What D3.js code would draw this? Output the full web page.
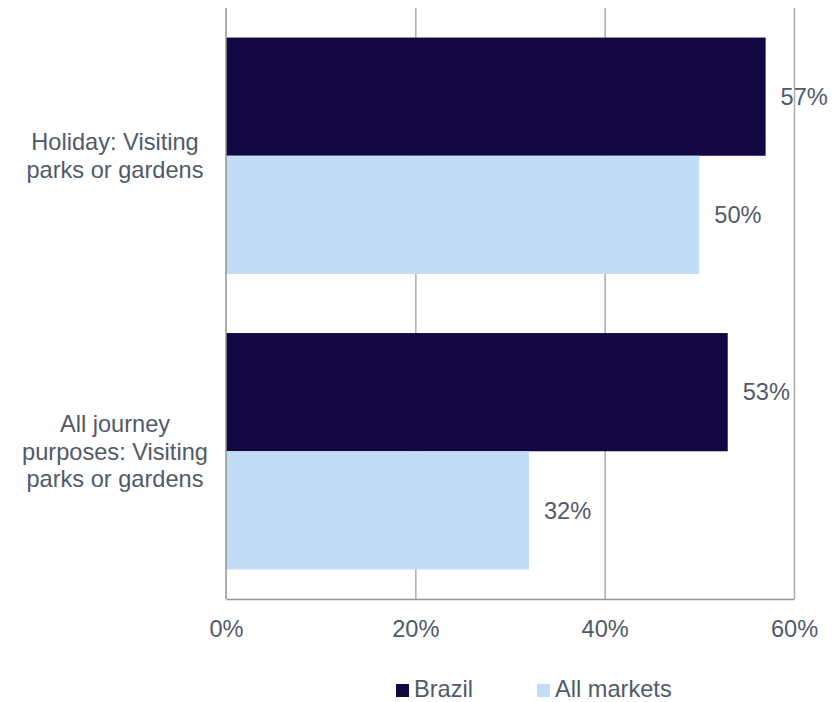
<!DOCTYPE html>
<html>
<head>
<meta charset="utf-8">
<script src="https://cdn.jsdelivr.net/npm/d3@7"></script>
<style>
  html, body { margin: 0; padding: 0; background: #ffffff; }
  svg { display: block; font-family: "Liberation Sans", Arial, sans-serif; }
</style>
</head>
<body>
<svg id="chart" width="839" height="702"></svg>
<script>
// Share of visitors who visited parks or gardens
const categories = [
  "Holiday: Visiting parks or gardens",
  "All journey purposes: Visiting parks or gardens"
];
const seriesNames = ["Brazil", "All markets"];
const brazilValues = [0.57, 0.53];
const allMarketsValues = [0.50, 0.32];
const tickValues = [0, 0.2, 0.4, 0.6];
const seriesColors = ["#130741", "#c2dcf5"];

const textColor = "#505a68";
const gridColor = "#a7afaf";
const axisColor = "#8f9797";
const fontSize = 23.6;

const svg = d3.select("#chart");
const plot = { left: 226, right: 794, top: 8, bottom: 599 };

const x = d3.scaleLinear().domain([0, 0.6]).range([plot.left, plot.right]);
const y = d3.scaleBand()
  .domain(categories)
  .range([plot.top, plot.bottom])
  .paddingInner(0.2)
  .paddingOuter(0.1);
const ySeries = d3.scaleBand()
  .domain(seriesNames)
  .range([0, y.bandwidth()]);
const color = d3.scaleOrdinal().domain(seriesNames).range(seriesColors);

const rows = categories.map((c, i) => ({
  category: c,
  values: [
    { series: seriesNames[0], value: brazilValues[i] },
    { series: seriesNames[1], value: allMarketsValues[i] }
  ]
}));

// Vertical gridlines
svg.append("g")
  .attr("transform", `translate(0,${plot.bottom})`)
  .call(d3.axisBottom(x).tickValues(tickValues.slice(1)).tickSize(-(plot.bottom - plot.top)).tickFormat(""))
  .call(g => g.select(".domain").remove())
  .call(g => g.selectAll(".tick line").attr("stroke", gridColor).attr("stroke-width", 1.5));

// Bars
const groups = svg.append("g").selectAll("g")
  .data(rows)
  .join("g")
  .attr("transform", d => `translate(0,${y(d.category)})`);

groups.selectAll("rect")
  .data(d => d.values)
  .join("rect")
  .attr("x", x(0))
  .attr("y", d => ySeries(d.series))
  .attr("width", d => x(d.value) - x(0))
  .attr("height", ySeries.bandwidth())
  .attr("fill", d => color(d.series));

// Value labels
const pct = d3.format(".0%");
groups.selectAll("text")
  .data(d => d.values)
  .join("text")
  .attr("x", d => x(d.value) + 15)
  .attr("y", d => ySeries(d.series) + ySeries.bandwidth() / 2)
  .attr("dy", "0.35em")
  .attr("font-size", fontSize)
  .attr("fill", textColor)
  .text(d => pct(d.value));

// Bottom axis with percent labels
svg.append("g")
  .attr("transform", `translate(0,${plot.bottom})`)
  .call(d3.axisBottom(x).tickValues(tickValues).tickFormat(pct).tickSize(0).tickPadding(21))
  .call(g => g.select(".domain").attr("stroke", axisColor).attr("stroke-width", 1.5))
  .call(g => g.selectAll(".tick text").attr("font-size", fontSize).attr("fill", textColor).attr("font-family", null));

// Left axis line
svg.append("line")
  .attr("x1", x(0)).attr("x2", x(0))
  .attr("y1", plot.top).attr("y2", plot.bottom)
  .attr("stroke", axisColor).attr("stroke-width", 1.5);

// Category labels, wrapped and centred beside each group
const lineHeight = 27.5;
const labelCenterX = 115;
const maxLabelWidth = 205;

categories.forEach(cat => {
  const t = svg.append("text")
    .attr("text-anchor", "middle")
    .attr("font-size", fontSize)
    .attr("fill", textColor);
  const words = cat.split(/\s+/);
  const lines = [];
  let current = [];
  const probe = svg.append("text").attr("font-size", fontSize).attr("visibility", "hidden");
  words.forEach(w => {
    const trial = current.concat(w).join(" ");
    probe.text(trial);
    if (current.length && probe.node().getComputedTextLength() > maxLabelWidth) {
      lines.push(current.join(" "));
      current = [w];
    } else {
      current.push(w);
    }
  });
  if (current.length) lines.push(current.join(" "));
  probe.remove();

  const cy = y(cat) + y.bandwidth() / 2;
  const firstBaseline = cy - (lines.length - 1) * lineHeight / 2 + 0.36 * fontSize;
  lines.forEach((ln, i) => {
    t.append("tspan")
      .attr("x", labelCenterX)
      .attr("y", firstBaseline + i * lineHeight)
      .text(ln);
  });
});

// Legend
const legendItems = [
  { name: seriesNames[0], x: 396 },
  { name: seriesNames[1], x: 537 }
];
const legend = svg.append("g").selectAll("g")
  .data(legendItems)
  .join("g")
  .attr("transform", d => `translate(${d.x},684)`);
legend.append("rect")
  .attr("width", 13).attr("height", 13)
  .attr("fill", d => color(d.name));
legend.append("text")
  .attr("x", 18)
  .attr("y", 13)
  .attr("font-size", fontSize)
  .attr("fill", textColor)
  .text(d => d.name);
</script>
</body>
</html>
